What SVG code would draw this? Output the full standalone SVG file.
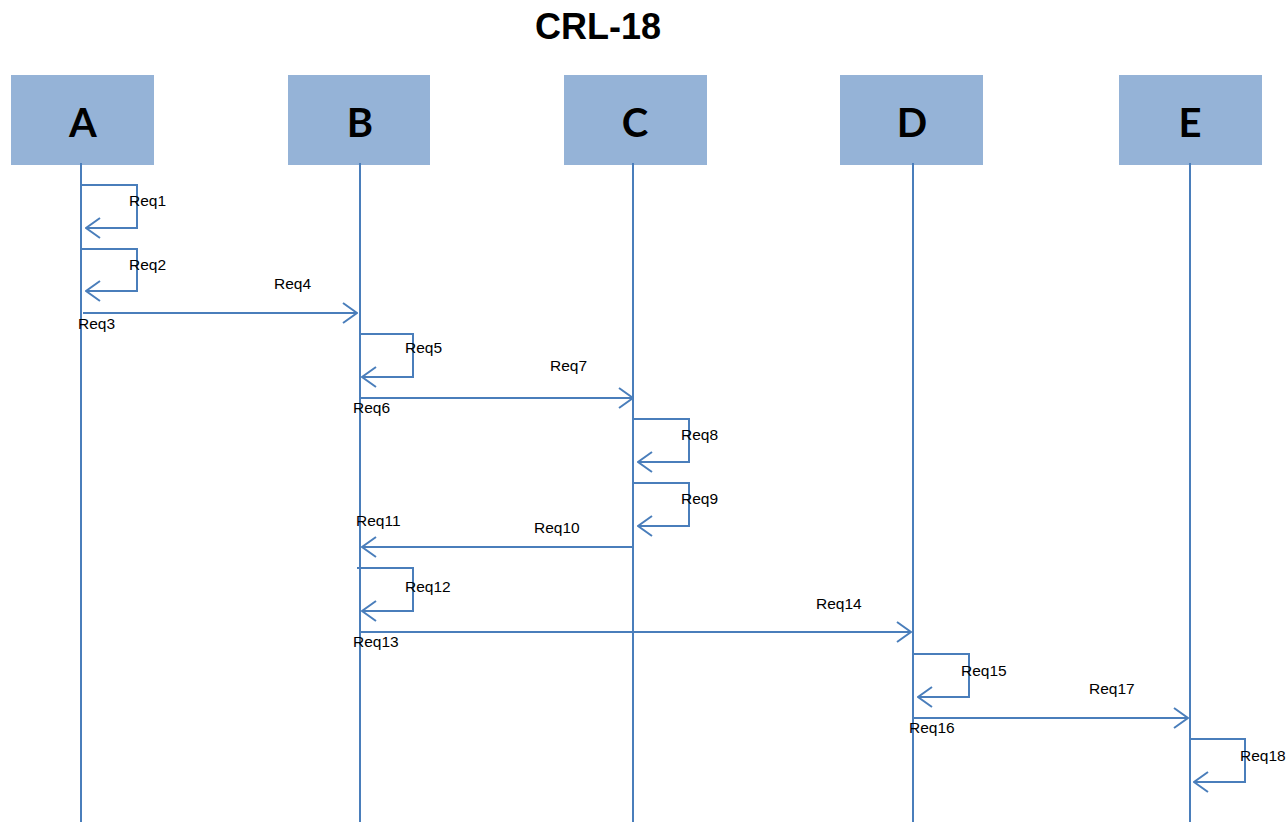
<svg xmlns="http://www.w3.org/2000/svg" width="1287" height="822" viewBox="0 0 1287 822">
<style>
.box{fill:#95b3d7;}
.nl{font-family:Lato,"Open Sans","Liberation Sans",sans-serif;font-weight:bold;font-size:40px;fill:#000;text-anchor:middle;}
.ttl{font-family:"Liberation Sans",Arial,sans-serif;font-weight:bold;font-size:36px;fill:#000;text-anchor:middle;}
.lbl{font-family:"Liberation Sans",Arial,sans-serif;font-size:15.5px;fill:#000;}
.ln{stroke:#4a7ebb;stroke-width:2;fill:none;}
</style>
<defs>
<marker id="ah" viewBox="0 0 16 22" refX="15" refY="11" markerWidth="16" markerHeight="22" markerUnits="userSpaceOnUse" orient="auto">
<path d="M1,1 L15,11 L1,21" fill="none" stroke="#4a7ebb" stroke-width="2"/>
</marker>
</defs>
<rect width="1287" height="822" fill="#fff"/>
<text class="ttl" x="598" y="39">CRL-18</text>
<g id="A"><rect class="box" x="11" y="75" width="143" height="90"/><text class="nl" x="83" y="137">A</text></g>
<g id="B"><rect class="box" x="288" y="75" width="142" height="90"/><text class="nl" x="360" y="137">B</text></g>
<g id="C"><rect class="box" x="564" y="75" width="143" height="90"/><text class="nl" x="635" y="137">C</text></g>
<g id="D"><rect class="box" x="840" y="75" width="143" height="90"/><text class="nl" x="912" y="137">D</text></g>
<g id="E"><rect class="box" x="1119" y="75" width="143" height="90"/><text class="nl" x="1190" y="137">E</text></g>
<g id="connectors">
<line class="ln" x1="81" y1="163" x2="81" y2="822"/>
<line class="ln" x1="360" y1="163" x2="360" y2="822"/>
<line class="ln" x1="633" y1="163" x2="633" y2="822"/>
<line class="ln" x1="913" y1="163" x2="913" y2="822"/>
<line class="ln" x1="1190" y1="163" x2="1190" y2="822"/>
<path class="ln" d="M81,185 H137 V228 H86" marker-end="url(#ah)"/>
<path class="ln" d="M81,249 H137 V291 H86" marker-end="url(#ah)"/>
<path class="ln" d="M83,313 H357" marker-end="url(#ah)"/>
<path class="ln" d="M359,334 H413 V377 H362" marker-end="url(#ah)"/>
<path class="ln" d="M360,398 H633" marker-end="url(#ah)"/>
<path class="ln" d="M633,419 H689 V462 H638" marker-end="url(#ah)"/>
<path class="ln" d="M633,483 H689 V526 H638" marker-end="url(#ah)"/>
<path class="ln" d="M633,547 H362" marker-end="url(#ah)"/>
<path class="ln" d="M357,568 H413 V611 H362" marker-end="url(#ah)"/>
<path class="ln" d="M360,632 H911" marker-end="url(#ah)"/>
<path class="ln" d="M913,654 H969 V697 H918" marker-end="url(#ah)"/>
<path class="ln" d="M913,718 H1188" marker-end="url(#ah)"/>
<path class="ln" d="M1190,739 H1245 V782 H1194" marker-end="url(#ah)"/>
</g>
<g id="labels">
<text class="lbl" x="129" y="206">Req1</text>
<text class="lbl" x="129" y="270">Req2</text>
<text class="lbl" x="78" y="329">Req3</text>
<text class="lbl" x="274" y="289">Req4</text>
<text class="lbl" x="405" y="353">Req5</text>
<text class="lbl" x="353" y="413">Req6</text>
<text class="lbl" x="550" y="371">Req7</text>
<text class="lbl" x="681" y="440">Req8</text>
<text class="lbl" x="681" y="504">Req9</text>
<text class="lbl" x="534" y="533">Req10</text>
<text class="lbl" x="356" y="526">Req11</text>
<text class="lbl" x="405" y="592">Req12</text>
<text class="lbl" x="353" y="647">Req13</text>
<text class="lbl" x="816" y="609">Req14</text>
<text class="lbl" x="961" y="676">Req15</text>
<text class="lbl" x="909" y="733">Req16</text>
<text class="lbl" x="1089" y="694">Req17</text>
<text class="lbl" x="1240" y="761">Req18</text>
</g>
</svg>
